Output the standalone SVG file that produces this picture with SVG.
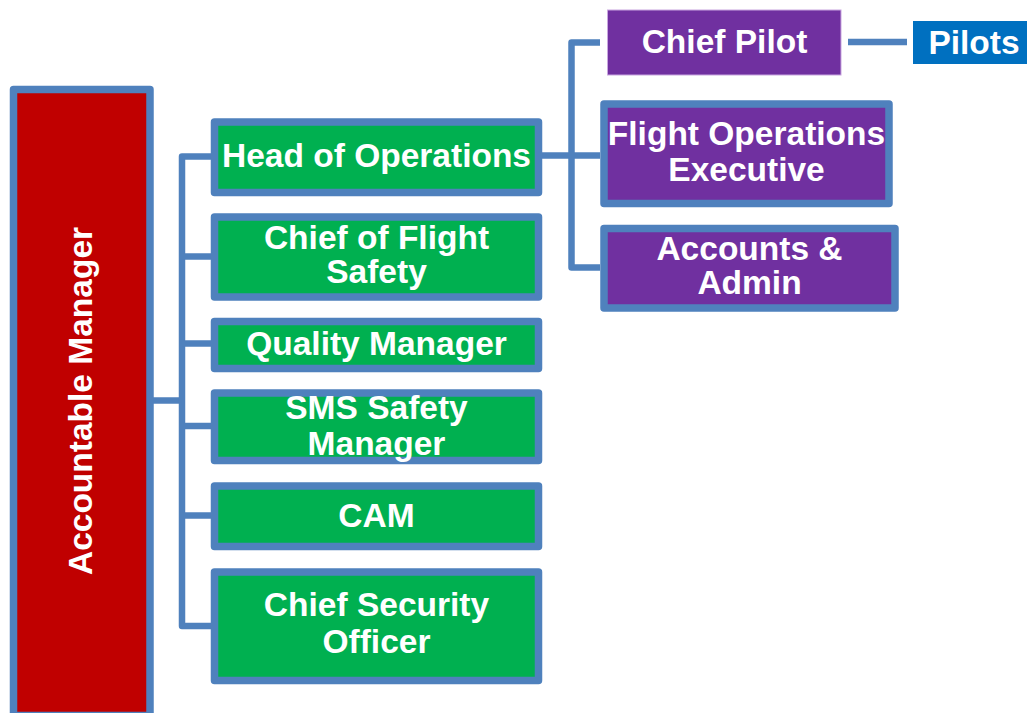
<svg xmlns="http://www.w3.org/2000/svg" width="1027" height="713" viewBox="0 0 1027 713">
  <style>
    .link { fill: none; stroke: #4F81BD; stroke-width: 6.5; stroke-linejoin: round; }
    .box { stroke: #4F81BD; stroke-width: 7.5; stroke-linejoin: round; }
    .green { fill: #00B050; }
    .purple { fill: #7030A0; }
    .red { fill: #C00000; }
    .label { font-family: "Liberation Sans", Arial, sans-serif; font-weight: bold; font-size: 33.5px; fill: #FFFFFF; text-anchor: middle; }
  </style>

  <!-- connectors -->
  <g id="connectors">
    <path class="link" d="M153,400.5 H182"/>
    <path class="link" d="M211,156.5 H182 V626 H211"/>
    <path class="link" d="M182,256.5 H211"/>
    <path class="link" d="M182,343.5 H211"/>
    <path class="link" d="M182,426 H211"/>
    <path class="link" d="M182,515.5 H211"/>
    <path class="link" d="M542,155.5 H600"/>
    <path class="link" d="M600,42.5 H571.5 V267.5 H600"/>
    <path class="link" d="M848,42 H907"/>
  </g>

  <!-- accountable manager -->
  <g id="accountable-manager">
    <rect class="box red" x="13.5" y="89.5" width="136.5" height="626"/>
    <text class="label" transform="translate(92,401) rotate(-90)" x="0" y="0">Accountable Manager</text>
  </g>

  <!-- direct reports -->
  <g id="head-of-operations">
    <rect class="box green" x="214.5" y="122" width="324" height="70.5"/>
    <text class="label" x="376.5" y="167">Head of Operations</text>
  </g>
  <g id="chief-of-flight-safety">
    <rect class="box green" x="214.5" y="217" width="324" height="80"/>
    <text class="label" x="376.5" y="249">Chief of Flight</text>
    <text class="label" x="376.5" y="283">Safety</text>
  </g>
  <g id="quality-manager">
    <rect class="box green" x="214.5" y="321.5" width="324" height="47"/>
    <text class="label" x="376.5" y="355">Quality Manager</text>
  </g>
  <g id="sms-safety-manager">
    <rect class="box green" x="214.5" y="393" width="324" height="67.5"/>
    <text class="label" x="376.5" y="419">SMS Safety</text>
    <text class="label" x="376.5" y="455">Manager</text>
  </g>
  <g id="cam">
    <rect class="box green" x="214.5" y="486" width="324" height="60.5"/>
    <text class="label" x="376.5" y="527">CAM</text>
  </g>
  <g id="chief-security-officer">
    <rect class="box green" x="214.5" y="572" width="324" height="108.5"/>
    <text class="label" x="376.5" y="616">Chief Security</text>
    <text class="label" x="376.5" y="652.5">Officer</text>
  </g>

  <!-- operations staff -->
  <g id="chief-pilot">
    <rect class="purple" x="607.5" y="10" width="233.5" height="65" stroke="#C9A6E0" stroke-width="1"/>
    <text class="label" x="724.5" y="53">Chief Pilot</text>
  </g>
  <g id="pilots">
    <rect x="913" y="21" width="118" height="43" fill="#0070C0"/>
    <text class="label" x="974" y="53.5">Pilots</text>
  </g>
  <g id="flight-operations-executive">
    <rect class="box purple" x="604" y="104" width="285" height="99.5"/>
    <text class="label" x="746.5" y="145">Flight Operations</text>
    <text class="label" x="746.5" y="180.5">Executive</text>
  </g>
  <g id="accounts-admin">
    <rect class="box purple" x="604" y="228.5" width="291" height="79.5"/>
    <text class="label" x="749.5" y="260">Accounts &amp;</text>
    <text class="label" x="749.5" y="294">Admin</text>
  </g>
</svg>
